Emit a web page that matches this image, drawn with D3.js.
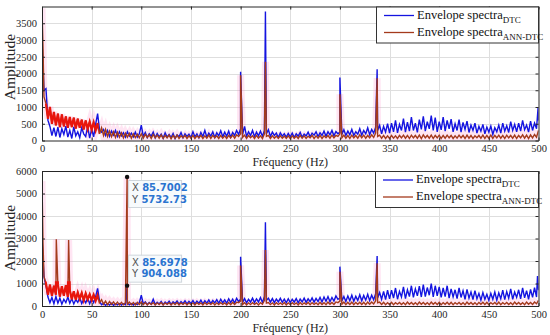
<!DOCTYPE html>
<html>
<head>
<meta charset="utf-8">
<script src="https://cdn.jsdelivr.net/npm/d3@7"></script>
<style>
  body { margin: 0; background: #fff; }
  svg { display: block; }
</style>
</head>
<body>
<svg id="chart" width="550" height="335"></svg>
<script>
// spectra every 2 Hz, spikes listed apart
const FREQ_STEP = 2;
const xTicks = [0, 50, 100, 150, 200, 250, 300, 350, 400, 450, 500];
const topYTicks = [0, 500, 1000, 1500, 2000, 2500, 3000, 3500];
const bottomYTicks = [0, 1000, 2000, 3000, 4000, 5000, 6000];
const legendLabels = [["Envelope spectra", "DTC"], ["Envelope spectra", "ANN-DTC"]];

const dtcTop = [
  3000,1500,1550,600,420,150,380,120,400,90,350,180,430,100,300,60,410,140,260,80,380,200,120,420,70,
  350,110,480,800,300,250,330,150,300,120,280,160,300,120,260,140,230,100,260,130,220,110,250,100,200,
  460,120,240,90,200,130,250,80,210,110,190,70,230,100,180,90,210,60,170,110,240,80,200,120,190,
  90,260,110,200,80,240,120,300,100,220,130,260,90,230,140,290,110,250,130,280,100,240,150,300,180,
  350,180,420,120,260,150,300,110,250,140,280,130,300,200,320,120,250,150,220,90,230,130,200,100,210,
  110,220,90,200,130,240,100,190,140,250,110,220,160,260,120,230,150,280,130,260,170,300,140,270,200,
  250,180,320,150,280,170,330,150,260,190,350,160,300,200,380,170,330,220,400,300,450,200,420,250,500,
  220,520,260,600,230,480,300,650,250,550,280,700,300,520,240,620,330,720,280,560,350,740,300,680,260,
  560,320,700,280,600,350,640,260,500,300,620,250,540,330,580,240,460,300,520,220,420,280,480,200,400,
  250,430,180,380,260,460,220,520,280,440,240,560,300,480,260,520,280,600,320,460,250,580,300,520,350,600
];
const annTop = [
  3950,1300,1100,650,1000,500,850,450,800,400,780,420,720,380,700,400,680,360,650,380,620,330,600,350,560,
  320,540,300,520,200,380,150,330,120,280,110,260,90,250,100,230,80,220,100,210,70,200,90,190,80,
  200,70,180,90,170,60,180,80,160,70,170,60,150,80,160,50,150,70,160,60,140,80,150,60,140,
  70,150,60,140,80,150,60,140,70,160,60,150,80,140,60,150,70,140,60,150,80,160,70,170,120,
  200,90,160,60,150,80,140,60,150,70,140,60,200,120,150,60,140,70,130,60,140,70,130,60,140,
  60,140,70,130,60,150,70,140,60,130,80,150,60,140,70,150,60,140,80,150,70,160,80,150,120,
  200,80,160,70,150,60,160,80,150,70,170,80,160,70,150,80,170,90,220,120,160,70,150,60,140,
  60,150,70,140,60,150,80,160,70,150,60,160,80,150,70,160,60,170,80,150,70,160,60,150,80,
  160,60,150,70,160,80,150,60,140,70,160,80,150,60,160,70,150,60,140,80,150,70,160,60,150,
  70,160,60,150,80,160,70,150,60,160,80,150,70,160,60,150,80,170,70,160,60,170,80,180,100,300
];
const dtcTopPeaks = [[200, 2050], [225, 3850], [300, 1880], [337.5, 2130], [499.6, 990]];
const annTopPeaks = [[1, 2800], [200, 1950], [225, 2350], [300, 1380], [337.5, 1860]];

const dtcBottom = [
  3000,1300,900,400,150,380,100,420,130,350,80,300,150,400,120,330,90,280,160,380,110,300,140,350,100,
  320,150,420,780,200,60,120,30,100,40,120,30,90,50,110,40,100,60,130,50,110,40,120,60,150,
  480,90,180,60,160,80,300,70,170,90,200,60,180,100,210,70,190,110,220,80,200,100,230,90,210,
  110,240,90,220,120,260,100,240,130,270,110,250,140,280,120,300,140,270,120,320,150,300,130,340,200,
  300,160,330,140,300,170,350,150,320,180,380,160,420,250,350,170,330,150,310,180,340,160,300,140,320,
  150,300,170,330,140,310,180,350,160,320,190,360,170,340,200,380,180,400,210,420,190,380,220,450,300,
  350,220,420,200,450,230,480,210,430,250,500,230,470,260,520,240,480,280,550,350,600,300,650,280,700,
  320,700,350,800,300,650,400,850,330,720,420,900,380,760,450,880,400,950,420,820,480,1000,400,900,450,
  850,380,800,420,900,350,760,400,720,330,800,380,680,300,740,350,620,290,680,320,560,260,600,300,520,
  250,560,300,620,260,580,320,700,280,640,350,760,300,620,380,720,320,800,360,680,300,740,380,820,400,700
];
const annBottom = [
  5550,1300,1000,500,950,450,900,500,950,420,880,450,920,400,700,300,650,280,600,320,580,250,560,300,520,
  260,500,230,480,150,280,80,220,60,200,70,180,60,170,50,160,60,150,80,170,60,150,50,160,70,
  180,60,150,50,140,70,150,50,140,60,150,50,140,70,150,50,140,60,150,50,140,70,150,50,140,
  60,140,50,150,70,140,50,150,60,140,70,150,50,140,60,150,70,140,50,150,60,160,70,170,150,
  220,70,150,50,140,60,150,70,140,50,150,80,250,130,150,60,140,50,150,70,140,60,150,50,140,
  60,150,70,140,50,150,60,140,70,160,60,150,70,140,60,160,70,150,60,170,80,160,70,180,150,
  220,80,170,60,160,70,170,60,160,80,170,70,160,60,170,80,180,90,230,140,170,70,160,60,150,
  70,160,60,150,80,160,70,150,60,170,80,160,70,150,60,170,80,160,70,150,60,170,80,160,70,
  160,60,150,80,170,70,160,60,150,80,160,70,150,60,170,80,160,70,150,60,160,80,170,70,160,
  60,150,80,160,70,170,60,150,80,160,70,150,60,170,80,160,70,150,60,170,80,160,70,180,100,250
];
const dtcBottomPeaks = [[85.6978, 904.088], [200, 2190], [225, 3720], [300, 1750], [337.5, 2220], [499, 1330]];
const annBottomPeaks = [[1, 2800], [14.4, 2970], [26.8, 2930], [85.7002, 5732.73], [200, 1800], [225, 2490], [300, 1520], [337.5, 1900]];
const dataTips = [[85.7002, 5732.73], [85.6978, 904.088]];

const BLUE = "#1414e0";
const BROWN = "#a43a1c";
const RED = "#e8150d";
const AXIS = "#262626";
const SERIF = "Liberation Serif, Times New Roman, serif";

const svg = d3.select("#chart");
const defs = svg.append("defs");

function toPoints(values, peaks) {
  const pts = values.map((v, i) => [i * FREQ_STEP, v]).concat(peaks);
  return pts.sort((a, b) => a[0] - b[0]);
}

function drawPanel(opt) {
  const x = d3.scaleLinear().domain([0, 500]).range([42, 538.5]);
  const y = d3.scaleLinear().domain(opt.yDomain).range([opt.bottom, opt.top]);
  const g = svg.append("g");

  // grid
  g.append("g").selectAll("line").data(xTicks.slice(1, -1)).join("line")
    .attr("x1", d => Math.round(x(d)) + 0.5).attr("x2", d => Math.round(x(d)) + 0.5)
    .attr("y1", opt.top).attr("y2", opt.bottom)
    .attr("stroke", "#dedede");
  g.append("g").selectAll("line").data(opt.yTicks.slice(1)).join("line")
    .attr("x1", x(0)).attr("x2", x(500))
    .attr("y1", d => Math.round(y(d)) + 0.5).attr("y2", d => Math.round(y(d)) + 0.5)
    .attr("stroke", "#dedede");

  const clipId = "clip-" + opt.name;
  defs.append("clipPath").attr("id", clipId)
    .append("rect")
    .attr("x", x(0)).attr("y", opt.top)
    .attr("width", x(500) - x(0)).attr("height", opt.bottom - opt.top);

  // red part of the ANN trace at low frequency
  const redId = "red-" + opt.name;
  defs.append("clipPath").attr("id", redId)
    .append("rect")
    .attr("x", x(3)).attr("y", y(1100))
    .attr("width", x(57) - x(3)).attr("height", y(0) - y(1100));

  const line = d3.line().x(d => x(d[0])).y(d => y(d[1]));
  const dtcPts = toPoints(opt.dtc, opt.dtcPeaks);
  const annPts = toPoints(opt.ann, opt.annPeaks);

  const plot = g.append("g").attr("clip-path", `url(#${clipId})`);
  plot.append("path").datum(annPts).attr("d", line)
    .attr("fill", "none").attr("stroke", "#ff8ac8")
    .attr("stroke-width", 7).attr("stroke-opacity", 0.22);
  plot.append("path").datum(dtcPts).attr("d", line)
    .attr("fill", "none").attr("stroke", BLUE).attr("stroke-width", 1.4);
  plot.append("path").datum(annPts).attr("d", line)
    .attr("fill", "none").attr("stroke", BROWN).attr("stroke-width", 1.4);
  plot.append("g").attr("clip-path", `url(#${redId})`)
    .append("path").datum(annPts).attr("d", line)
    .attr("fill", "none").attr("stroke", RED).attr("stroke-width", 2.2);

  // axes, matlab box style
  const fmt = d3.format("d");
  const axB = g.append("g").attr("transform", `translate(0,${opt.bottom})`)
    .call(d3.axisBottom(x).tickValues(xTicks).tickFormat(fmt).tickSizeInner(-3).tickSizeOuter(0).tickPadding(4.5));
  const axT = g.append("g").attr("transform", `translate(0,${opt.top})`)
    .call(d3.axisTop(x).tickValues(xTicks).tickSizeInner(-3).tickSizeOuter(0).tickFormat(""));
  const axL = g.append("g").attr("transform", `translate(${x(0)},0)`)
    .call(d3.axisLeft(y).tickValues(opt.yTicks).tickFormat(fmt).tickSizeInner(-3).tickSizeOuter(0).tickPadding(5));
  const axR = g.append("g").attr("transform", `translate(${x(500)},0)`)
    .call(d3.axisRight(y).tickValues(opt.yTicks).tickSizeInner(-3).tickSizeOuter(0).tickFormat(""));
  [axB, axT, axL, axR].forEach(a => {
    a.attr("font-family", SERIF).attr("font-size", 10.5);
    a.select(".domain").attr("stroke", AXIS);
    a.selectAll(".tick line").attr("stroke", AXIS);
    a.selectAll("text").attr("fill", AXIS);
  });

  g.append("text")
    .attr("x", (x(0) + x(500)) / 2).attr("y", opt.bottom + 25.5)
    .attr("text-anchor", "middle")
    .attr("font-family", SERIF).attr("font-size", 12).attr("fill", AXIS)
    .text("Fréquency (Hz)");
  g.append("text")
    .attr("transform", `translate(15,${opt.ylabelY}) rotate(-90)`)
    .attr("text-anchor", "middle")
    .attr("font-family", SERIF).attr("font-size", 15.5).attr("fill", AXIS)
    .text("Amplitude");

  // legend
  const lg = g.append("g").attr("transform", `translate(${opt.legendX},${opt.top})`);
  lg.append("rect").attr("x", 0.5).attr("y", 0.5)
    .attr("width", x(500) - opt.legendX - 0.5).attr("height", 36)
    .attr("fill", "#fff").attr("stroke", "#333");
  legendLabels.forEach((lab, i) => {
    const ly = 9 + i * 17;
    lg.append("line").attr("x1", 8).attr("x2", 38).attr("y1", ly).attr("y2", ly)
      .attr("stroke", i === 0 ? BLUE : BROWN).attr("stroke-width", 1.3);
    const t = lg.append("text").attr("x", 41).attr("y", ly + 3)
      .attr("font-family", SERIF).attr("font-size", 12.5).attr("fill", "#111");
    t.append("tspan").text(lab[0]);
    t.append("tspan").attr("dy", 4).attr("font-size", 9).text(lab[1]);
  });

  return { x, y, g };
}

drawPanel({
  name: "top", top: 6.5, bottom: 140.5, yDomain: [0, 4000], yTicks: topYTicks, ylabelY: 67,
  dtc: dtcTop, ann: annTop, dtcPeaks: dtcTopPeaks, annPeaks: annTopPeaks, legendX: 376
});
const bottomPanel = drawPanel({
  name: "bottom", top: 171, bottom: 306, yDomain: [0, 6000], yTicks: bottomYTicks, ylabelY: 238,
  dtc: dtcBottom, ann: annBottom, dtcPeaks: dtcBottomPeaks, annPeaks: annBottomPeaks, legendX: 375
});

// data tips on the 85.7 Hz line
const bx = bottomPanel.x, by = bottomPanel.y;
dataTips.forEach((tip, i) => {
  const px = bx(tip[0]), py = by(tip[1]);
  bottomPanel.g.append("circle").attr("cx", px).attr("cy", py).attr("r", 2.2).attr("fill", "#111");
  const top = i === 0 ? py + 3 : py - 31;
  const box = bottomPanel.g.append("g").attr("transform", `translate(${px + 1},${top})`);
  box.append("rect").attr("x", 0.5).attr("y", 0.5).attr("width", 53).attr("height", 27)
    .attr("fill", "#f7fafc").attr("stroke", "#cfd6dc");
  [["X", tip[0].toFixed(4)], ["Y", i === 0 ? tip[1].toFixed(2) : tip[1].toFixed(3)]].forEach((row, j) => {
    const t = box.append("text").attr("x", 4).attr("y", 11 + j * 11.5)
      .attr("font-family", "DejaVu Sans, sans-serif").attr("font-size", 10);
    t.append("tspan").attr("fill", "#555").text(row[0] + " ");
    t.append("tspan").attr("fill", "#2a74d0").attr("font-weight", "bold").text(row[1]);
  });
});
</script>
</body>
</html>
